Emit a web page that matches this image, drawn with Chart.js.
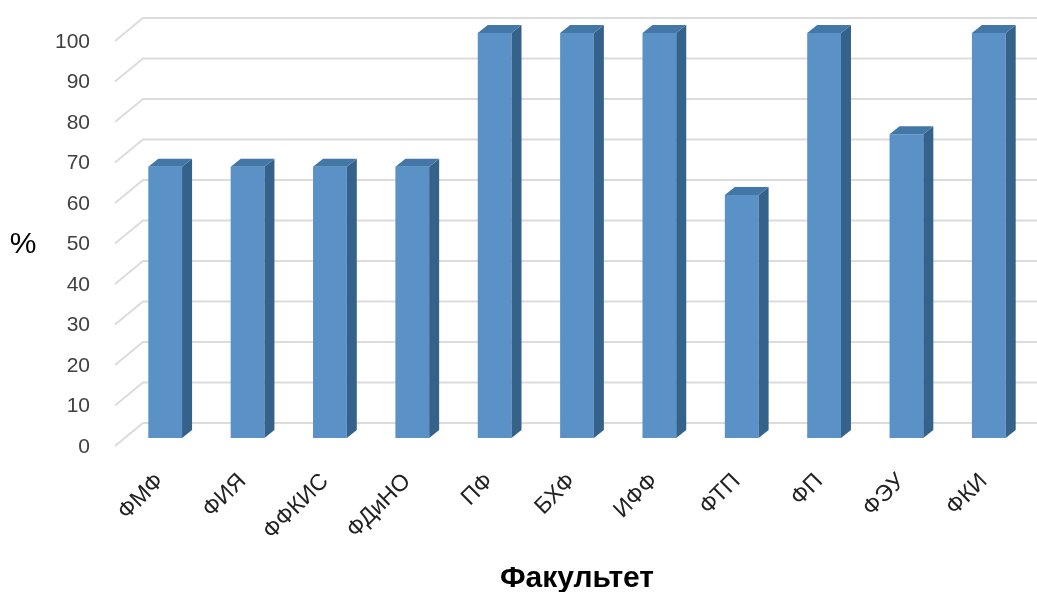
<!DOCTYPE html>
<html>
<head>
<meta charset="utf-8">
<script src="https://cdn.jsdelivr.net/npm/chart.js@4"></script>
<style>
  body { margin: 0; background: #fff; }
  #wrap { width: 1037px; height: 592px; }
</style>
</head>
<body>
<div id="wrap"><canvas id="facultyChart"></canvas></div>
<script>
const faculties = ['ФМФ', 'ФИЯ', 'ФФКИС', 'ФДиНО', 'ПФ', 'БХФ', 'ИФФ', 'ФТП', 'ФП', 'ФЭУ', 'ФКИ'];
const percentValues = [67, 67, 67, 67, 100, 100, 100, 60, 100, 75, 100];
const yTicks = [0, 10, 20, 30, 40, 50, 60, 70, 80, 90, 100];

// fake 3D: bar depth and back wall offset
const BAR_DX = 10, BAR_DY = 8;

const pseudo3d = {
    id: 'pseudo3d',
    beforeDatasetsDraw(chart) {
        const { ctx, chartArea, scales: { y } } = chart;
        ctx.save();
        ctx.strokeStyle = '#dcdcdc';
        ctx.lineWidth = 2;
        y.ticks.forEach(t => {
            const py = y.getPixelForValue(t.value);
            ctx.beginPath();
            ctx.moveTo(chartArea.left - 9, py + 8);
            ctx.lineTo(chartArea.left + 19, py - 15);
            ctx.lineTo(chart.width, py - 15);
            ctx.stroke();
        });
        ctx.restore();
    },
    afterDatasetsDraw(chart) {
        const { ctx } = chart;
        const bars = chart.getDatasetMeta(0).data;
        ctx.save();
        bars.forEach(b => {
            const l = b.x - b.width / 2, r = b.x + b.width / 2;
            // side
            ctx.fillStyle = '#35628b';
            ctx.beginPath();
            ctx.moveTo(r, b.y);
            ctx.lineTo(r + BAR_DX, b.y - BAR_DY);
            ctx.lineTo(r + BAR_DX, b.base - BAR_DY);
            ctx.lineTo(r, b.base);
            ctx.closePath();
            ctx.fill();
            // top
            ctx.fillStyle = '#4377a7';
            ctx.beginPath();
            ctx.moveTo(l, b.y);
            ctx.lineTo(l + BAR_DX, b.y - BAR_DY);
            ctx.lineTo(r + BAR_DX, b.y - BAR_DY);
            ctx.lineTo(r, b.y);
            ctx.closePath();
            ctx.fill();
        });
        ctx.restore();
    },
    afterDraw(chart) {
        const { ctx } = chart;
        ctx.save();
        ctx.fillStyle = '#000';
        ctx.font = '30px "Liberation Sans", Arial, sans-serif';
        ctx.textAlign = 'center';
        ctx.textBaseline = 'middle';
        ctx.fillText('%', 23, 245);
        ctx.restore();
    }
};

new Chart(document.getElementById('facultyChart'), {
    type: 'bar',
    data: {
        labels: faculties,
        datasets: [{
            data: percentValues,
            backgroundColor: '#5a92c8',
            borderWidth: 0,
            barPercentage: 0.41,
            categoryPercentage: 1
        }]
    },
    options: {
        responsive: true,
        maintainAspectRatio: false,
        animation: false,
        layout: { padding: { top: 33, right: 7, left: 0, bottom: 0 } },
        plugins: { legend: { display: false }, tooltip: { enabled: false } },
        scales: {
            x: {
                grid: { display: false },
                border: { display: false },
                ticks: {
                    color: '#222',
                    font: { size: 23, family: '"Liberation Sans", Arial, sans-serif' },
                    minRotation: 45,
                    maxRotation: 45,
                    autoSkip: false,
                    padding: 22,
                    labelOffset: -5
                },
                title: {
                    display: true,
                    text: 'Факультет',
                    color: '#000',
                    font: { size: 30, weight: 'bold', family: '"Liberation Sans", Arial, sans-serif' },
                    padding: { top: 0, bottom: -5 }
                },
                afterFit: s => { s.height = 154; }
            },
            y: {
                min: 0,
                max: 100,
                afterBuildTicks: s => { s.ticks = yTicks.map(v => ({ value: v })); },
                grid: { display: false, drawTicks: true, tickLength: 30 },
                border: { display: false },
                ticks: {
                    color: '#404040',
                    font: { size: 21, family: '"Liberation Sans", Arial, sans-serif' },
                    padding: 4,
                    labelOffset: 9
                },
                afterFit: s => { s.width = 124; }
            }
        }
    },
    plugins: [pseudo3d]
});
</script>
</body>
</html>
